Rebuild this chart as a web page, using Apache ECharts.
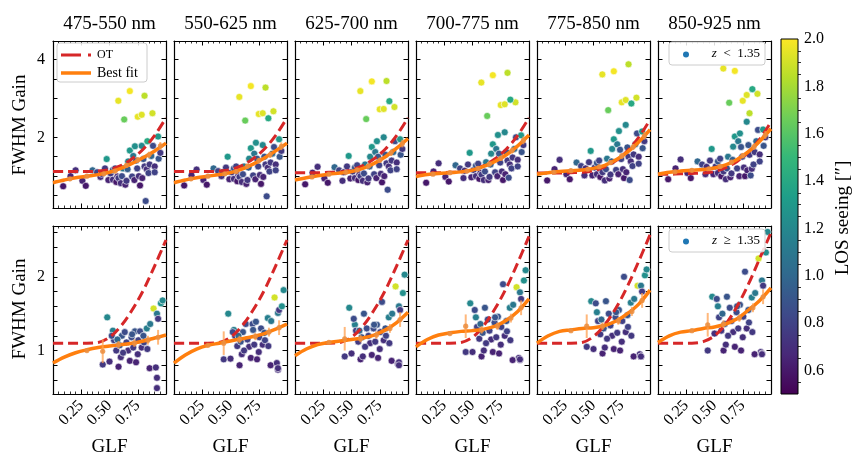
<!DOCTYPE html>
<html><head><meta charset="utf-8">
<script src="https://cdn.jsdelivr.net/npm/echarts@6/dist/echarts.min.js"></script>
<style>html,body{margin:0;padding:0;background:#fff}#c{width:853px;height:457px}</style>
</head><body><div id="c"></div>
<script>
// ---------------- data ----------------
const bands = ['475-550 nm','550-625 nm','625-700 nm','700-775 nm','775-850 nm','850-925 nm'];

// top row (z < 1.35): GLF and LOS seeing per observation
const glfTop = [0.09,0.155,0.2,0.26,0.29,0.35,0.39,0.42,0.43,0.46,
 0.475,0.49,0.51,0.53,0.53,0.55,0.56,0.57,0.58,0.6,
 0.61,0.62,0.64,0.65,0.66,0.665,0.68,0.7,0.71,0.72,
 0.725,0.735,0.745,0.76,0.77,0.785,0.79,0.8,0.81,0.82,
 0.83,0.845,0.855,0.87,0.885,0.9,0.9,0.93,0.935,0.95,
 0.578,0.68,0.81,0.63,0.75,0.785,0.88,0.835];
const seeTop = [0.6,0.65,0.7,0.65,0.6,1.0,0.8,0.7,0.7,0.75,
 1.3,0.65,0.75,0.7,0.9,0.8,0.6,0.65,0.75,0.7,
 0.85,1.1,0.65,0.75,0.95,1.2,1.3,0.8,1.1,0.65,
 1.25,0.9,0.8,0.7,0.6,1.2,0.65,0.9,0.75,0.85,
 0.7,0.8,0.75,1.0,0.85,0.7,0.8,1.3,0.9,0.75,
 1.95,1.98,1.85,1.65,1.95,1.93,1.9,1.4];
const gainTop475 = [0.74,1.0,1.15,0.88,0.75,1.15,1.1,0.98,1.06,1.2,
 1.44,0.9,1.07,0.91,1.16,1.2,0.85,0.99,0.95,0.82,
 1.0,1.2,0.78,0.88,1.18,1.38,1.66,0.99,1.52,0.9,
 1.77,1.4,1.2,1.0,0.76,1.78,0.95,1.44,1.25,0.36,
 1.18,1.08,1.3,1.52,1.78,1.25,1.1,2.02,1.45,1.6,
 2.94,3.19,3.07,2.46,2.53,2.58,2.62,1.9];
const gainTop550 = [0.76,1.02,1.17,0.9,0.78,1.2,1.13,1.0,1.1,1.22,
 1.5,0.92,1.1,0.93,1.2,1.25,0.87,1.02,0.98,0.85,
 1.05,1.25,0.8,0.9,1.22,1.45,1.72,1.02,1.58,0.92,
 1.86,1.45,1.25,1.03,0.8,1.8,0.98,1.5,1.3,0.48,
 1.22,1.12,1.35,1.58,1.75,1.3,1.15,1.95,1.5,1.65,
 3.04,3.32,3.28,2.43,2.6,2.62,2.67,2.49];
const gainTop625 = [0.79,1.09,1.24,0.94,0.83,1.23,1.15,0.88,1.1,1.25,
 1.52,0.94,1.12,0.95,1.22,1.28,0.9,1.04,1.0,0.88,
 1.07,1.3,0.84,0.94,1.25,1.5,1.75,1.05,1.62,0.95,
 1.9,1.5,1.28,1.06,0.84,2.0,1.0,1.55,1.33,0.65,
 1.25,1.15,1.4,1.62,1.9,1.35,1.18,1.95,1.55,1.7,
 3.19,3.44,3.45,2.47,2.72,2.73,2.78,2.93];
const gainTop700 = [0.83,1.12,1.33,0.98,0.86,1.28,1.2,0.95,1.14,1.3,
 1.6,0.97,1.16,1.0,1.27,1.32,0.93,1.08,1.04,0.9,
 1.12,1.36,0.9,0.98,1.3,1.58,1.82,1.1,1.7,1.0,
 2.06,1.58,1.35,1.12,0.9,2.13,1.05,1.62,1.4,0.96,
 1.3,1.2,1.48,1.7,2.0,1.42,1.25,2.05,1.62,1.8,
 3.41,3.6,3.66,2.55,2.83,2.85,2.9,2.97];
const gainTop775 = [0.89,1.18,1.42,1.05,0.92,1.35,1.26,1.02,1.2,1.36,
 1.65,1.02,1.22,1.05,1.34,1.4,0.98,1.14,1.1,0.89,
 1.18,1.45,0.94,1.04,1.38,1.7,1.95,1.16,1.82,1.05,
 2.16,1.68,1.44,1.18,0.95,2.32,1.1,1.74,1.5,0.9,
 1.38,1.26,1.56,1.82,2.1,1.5,1.32,2.15,1.72,1.9,
 3.62,3.7,3.88,2.7,2.9,2.96,3.02,2.87];
const gainTop850 = [0.92,1.2,1.43,1.08,0.95,1.38,1.3,1.05,1.24,1.4,
 1.7,1.05,1.25,1.08,1.38,1.45,1.0,1.17,1.12,0.92,
 1.2,1.5,0.97,1.07,1.42,1.76,2.02,1.2,1.9,1.0,
 2.1,1.75,1.5,1.22,1.0,2.4,1.15,1.8,1.55,1.02,
 1.19,1.3,1.62,1.9,2.19,1.56,1.38,2.2,1.78,2.0,
 3.77,3.71,2.62,2.89,2.94,3.09,3.12,3.24];

// bottom row (z >= 1.35)
const glfBot = [0.44,0.48,0.5,0.53,0.54,0.56,0.58,0.59,0.6,0.61,
 0.635,0.65,0.665,0.68,0.695,0.71,0.725,0.735,0.755,0.77,
 0.785,0.805,0.83,0.835,0.855,0.86,0.89,0.91,0.92,0.92,
 0.93,0.955,0.92,0.52,0.62,0.7,0.75,0.8,0.57,0.97];
const seeBot = [0.75,1.2,0.7,1.15,0.8,0.75,0.65,0.9,0.7,0.9,
 0.85,0.8,0.7,0.65,0.85,0.75,0.9,0.65,0.8,0.85,
 0.7,0.8,1.15,0.75,0.65,1.1,1.9,0.7,1.1,0.7,
 0.75,1.25,0.7,0.85,0.75,0.9,0.7,0.9,1.0,1.2];
const gainBot475 = [0.81,1.45,0.85,1.27,1.14,1.0,0.78,1.07,0.91,1.2,
 1.25,1.11,1.0,0.86,1.18,1.04,1.26,0.84,1.14,1.26,
 1.04,1.11,1.3,1.02,0.76,1.36,1.57,0.77,1.5,0.63,
 1.43,1.64,0.49,1.2,0.97,1.22,0.95,1.2,1.15,1.68];
const gainBot550 = [0.88,1.5,0.89,1.28,1.2,1.06,0.8,1.12,0.95,1.25,
 1.36,1.15,1.05,0.9,1.36,1.08,1.39,0.88,1.18,1.3,
 1.08,1.14,1.44,1.06,0.8,1.4,1.72,0.83,1.51,0.74,
 1.55,1.6,0.76,1.25,1.0,1.28,0.98,1.24,1.2,1.82];
const gainBot625 = [0.92,1.58,0.96,1.35,1.27,1.12,0.88,1.18,0.92,1.5,
 1.3,1.2,1.1,0.94,1.3,1.12,1.35,0.9,1.25,1.66,
 1.14,1.2,1.45,1.1,0.86,1.5,1.87,0.82,1.6,0.84,
 1.55,1.78,0.8,1.43,1.05,1.35,1.02,1.3,1.27,2.03];
const gainBot700 = [0.98,1.64,0.98,1.45,1.32,1.16,0.92,1.24,1.0,1.58,
 1.42,1.27,1.15,0.98,1.38,1.18,1.46,0.96,1.32,1.9,
 1.2,1.26,1.58,1.14,0.87,1.62,1.86,0.9,1.79,0.87,
 1.7,1.95,0.88,1.55,1.1,1.45,1.08,1.4,1.36,2.09];
const gainBot775 = [1.05,1.67,1.02,1.52,1.4,1.22,0.96,1.3,1.04,1.67,
 1.5,1.34,1.2,1.02,1.45,1.24,1.55,1.0,1.4,2.0,
 1.25,1.32,1.65,1.2,0.92,1.7,1.88,0.95,1.88,0.92,
 1.8,2.02,0.92,1.64,1.16,1.52,1.12,1.48,1.42,2.1];
const gainBot850 = [1.0,1.73,1.23,1.6,1.45,1.27,1.0,1.36,1.08,1.73,
 1.58,1.4,1.25,1.05,1.52,1.3,1.62,1.0,1.46,2.07,
 1.3,1.38,1.72,1.25,0.95,1.78,2.25,0.98,1.95,0.96,
 1.88,2.33,0.95,1.7,1.2,1.6,1.18,1.55,1.5,2.61];

// model curves sampled at curveX
const curveX = [0,0.1,0.2,0.3,0.4,0.5,0.6,0.7,0.8,0.9,1.0];
const otTop475 = [1.12,1.12,1.12,1.12,1.13,1.17,1.27,1.45,1.7,2.05,2.5];
const otTop550 = [1.12,1.12,1.12,1.12,1.13,1.17,1.27,1.45,1.7,2.05,2.5];
const otTop625 = [1.09,1.09,1.09,1.1,1.11,1.16,1.27,1.45,1.7,2.05,2.5];
const otTop700 = [1.09,1.09,1.09,1.1,1.11,1.16,1.27,1.45,1.7,2.05,2.5];
const otTop775 = [1.08,1.08,1.08,1.09,1.1,1.14,1.24,1.4,1.65,2.0,2.45];
const otTop850 = [1.05,1.05,1.06,1.07,1.08,1.12,1.22,1.38,1.62,1.95,2.4];
const fitTop475 = [0.83,0.9,0.96,1.0,1.04,1.1,1.2,1.33,1.48,1.65,1.85];
const fitTop550 = [0.83,0.9,0.96,1.0,1.04,1.09,1.18,1.31,1.47,1.65,1.85];
const fitTop625 = [0.9,0.96,1.01,1.05,1.08,1.12,1.2,1.33,1.5,1.72,1.97];
const fitTop700 = [0.99,1.04,1.07,1.09,1.11,1.16,1.25,1.38,1.55,1.78,2.06];
const fitTop775 = [1.05,1.09,1.12,1.14,1.16,1.2,1.28,1.42,1.62,1.88,2.2];
const fitTop850 = [1.05,1.1,1.13,1.15,1.17,1.21,1.29,1.43,1.63,1.9,2.22];
const otBot475 = [1.1,1.1,1.1,1.1,1.11,1.18,1.33,1.55,1.82,2.15,2.5];
const otBot550 = [1.1,1.1,1.1,1.1,1.11,1.18,1.33,1.55,1.82,2.15,2.5];
const otBot625 = [1.1,1.1,1.1,1.1,1.11,1.18,1.33,1.55,1.82,2.15,2.5];
const otBot700 = [1.1,1.1,1.1,1.1,1.11,1.18,1.34,1.57,1.85,2.19,2.55];
const otBot775 = [1.1,1.1,1.1,1.1,1.11,1.19,1.35,1.58,1.87,2.21,2.57];
const otBot850 = [1.1,1.1,1.1,1.1,1.12,1.2,1.36,1.6,1.9,2.25,2.6];
const fitBot475 = [0.83,0.91,0.97,1.01,1.04,1.06,1.08,1.1,1.13,1.17,1.21];
const fitBot550 = [0.83,0.94,1.02,1.07,1.1,1.13,1.16,1.19,1.23,1.29,1.36];
const fitBot625 = [0.93,1.02,1.08,1.11,1.13,1.15,1.17,1.21,1.28,1.38,1.52];
const fitBot700 = [1.05,1.15,1.21,1.24,1.26,1.27,1.29,1.33,1.41,1.53,1.7];
const fitBot775 = [1.1,1.2,1.26,1.28,1.3,1.31,1.34,1.4,1.5,1.63,1.82];
const fitBot850 = [1.11,1.2,1.25,1.27,1.3,1.32,1.36,1.43,1.55,1.68,1.85];

// binned points with error bars
const binXTop = [0.15,0.3,0.45,0.55,0.65,0.75,0.85,0.95];
const binErrTop = [0.04,0.05,0.05,0.05,0.06,0.07,0.08,0.1];
const binTop475 = [0.93,1.0,1.06,1.13,1.28,1.42,1.55,1.78];
const binTop550 = [0.93,1.0,1.06,1.12,1.26,1.4,1.55,1.77];
const binTop625 = [0.98,1.05,1.1,1.16,1.26,1.41,1.6,1.84];
const binTop700 = [1.05,1.09,1.13,1.2,1.31,1.46,1.66,1.92];
const binTop775 = [1.1,1.14,1.18,1.24,1.35,1.52,1.75,2.04];
const binTop850 = [1.11,1.15,1.19,1.25,1.36,1.53,1.76,2.06];
const binXBot = [0.3,0.44,0.58,0.72,0.84,0.93];
const binErrBot = [0.02,0.16,0.05,0.05,0.06,0.1];
const binBot475 = [1.0,0.99,1.08,1.1,1.14,1.18];
const binBot550 = [1.07,1.1,1.15,1.19,1.25,1.31];
const binBot625 = [1.11,1.16,1.16,1.21,1.3,1.42];
const binBot700 = [1.23,1.33,1.28,1.33,1.44,1.58];
const binBot775 = [1.27,1.33,1.33,1.4,1.53,1.68];
const binBot850 = [1.27,1.35,1.36,1.44,1.58,1.73];

// axis ticks / labels
const xRange = [0, 1];
const yRangeTop = [0.18, 4.48];
const yRangeBot = [0.41, 2.69];
const yTicksTop = [0.5,1,1.5,2,2.5,3,3.5,4];
const yLabelsTop = [2,4];
const yTicksBot = [0.6,0.8,1,1.2,1.4,1.6,1.8,2,2.2,2.4,2.6];
const yLabelsBot = [1,2];
const cbRange = [0.5, 2.0];
const cbTicks = [0.6,0.8,1.0,1.2,1.4,1.6,1.8,2.0];
const cbMinor = [0.55,0.65,0.7,0.75,0.85,0.9,0.95,1.05,1.1,1.15,1.25,1.3,1.35,1.45,1.5,1.55,1.65,1.7,1.75,1.85,1.9,1.95];

// ---------------- build ----------------
const FF = 'Liberation Serif';
const viridis = ['#440154','#482878','#3e4989','#31688e','#26828e','#1f9e89','#35b779','#6ece58','#b5de2b','#fde725'];
const rows = [
  {glf: glfTop, see: seeTop, gains:[gainTop475,gainTop550,gainTop625,gainTop700,gainTop775,gainTop850],
   ot:[otTop475,otTop550,otTop625,otTop700,otTop775,otTop850],
   fit:[fitTop475,fitTop550,fitTop625,fitTop700,fitTop775,fitTop850],
   binX: binXTop, binErr: binErrTop, bins:[binTop475,binTop550,binTop625,binTop700,binTop775,binTop850],
   yr: yRangeTop, ticks: yTicksTop, labels: yLabelsTop},
  {glf: glfBot, see: seeBot, gains:[gainBot475,gainBot550,gainBot625,gainBot700,gainBot775,gainBot850],
   ot:[otBot475,otBot550,otBot625,otBot700,otBot775,otBot850],
   fit:[fitBot475,fitBot550,fitBot625,fitBot700,fitBot775,fitBot850],
   binX: binXBot, binErr: binErrBot, bins:[binBot475,binBot550,binBot625,binBot700,binBot775,binBot850],
   yr: yRangeBot, ticks: yTicksBot, labels: yLabelsBot}
];
const colLeft = [53,174,295,416,537,658], PW = 113;
const rowTop = [41,226], rowH = [167,168];

function mkX(g, pos, labels){
  return {type:'value', gridIndex:g, position:pos, min:xRange[0], max:xRange[1], interval:0.25,
    axisLine:{show:true, onZero:false, lineStyle:{color:'#000', width:1.2}},
    axisTick:{show:true, inside:true, length:4.5, lineStyle:{color:'#000', width:1}},
    minorTick:{show:true, splitNumber:5, length:2.5, lineStyle:{color:'#000', width:0.8}},
    splitLine:{show:false}, minorSplitLine:{show:false},
    axisLabel:{show:labels, rotate:45, margin:9, fontSize:16, color:'#000', fontFamily:FF,
      showMinLabel:false, showMaxLabel:false, formatter:v=>v.toFixed(2)}};
}
function mkY(g, pos, labels, row){
  return {type:'value', gridIndex:g, position:pos, min:row.yr[0], max:row.yr[1],
    axisLine:{show:true, onZero:false, lineStyle:{color:'#000', width:1.2}},
    axisTick:{show:true, inside:true, length:4.5, customValues:row.ticks, lineStyle:{color:'#000', width:1}},
    splitLine:{show:false},
    axisLabel:{show:labels, customValues:row.labels, margin:8, fontSize:16, color:'#000', fontFamily:FF, formatter:v=>String(v)}};
}

const grid=[], xAxis=[], yAxis=[], series=[], scatterIdx=[];
rows.forEach((row, r) => {
  for (let c = 0; c < 6; c++) {
    const k = r*6 + c;
    grid.push({left:colLeft[c], top:rowTop[r], width:PW, height:rowH[r], containLabel:false, outerBoundsMode:'none'});
    xAxis.push(mkX(k, 'bottom', r === 1));
    xAxis.push(mkX(k, 'top', false));
    yAxis.push(mkY(k, 'left', c === 0, row));
    yAxis.push(mkY(k, 'right', false, row));
    const gain = row.gains[c];
    series.push({type:'scatter', xAxisIndex:2*k, yAxisIndex:2*k, z:2,
      data: row.glf.map((x,i)=>[x, gain[i], row.see[i]]),
      symbolSize:7, itemStyle:{borderColor:'#fff', borderWidth:0.6, opacity:1}});
    scatterIdx.push(series.length-1);
    series.push({type:'line', xAxisIndex:2*k, yAxisIndex:2*k, z:4, silent:true,
      data: curveX.map((x,i)=>[x, row.ot[c][i]]), smooth:0.35, showSymbol:false,
      lineStyle:{color:'#d62728', width:3, type:[10,5]}});
    series.push({type:'line', xAxisIndex:2*k, yAxisIndex:2*k, z:5, silent:true,
      data: curveX.map((x,i)=>[x, row.fit[c][i]]), smooth:0.35, showSymbol:false,
      lineStyle:{color:'#ff7f0e', width:3.5}});
    series.push({type:'custom', xAxisIndex:2*k, yAxisIndex:2*k, z:6, silent:true,
      data: row.binX.map((x,i)=>[x, row.bins[c][i], row.binErr[i]]),
      encode:{x:0, y:1},
      renderItem:(params, api)=>{
        const x=api.value(0), y=api.value(1), e=api.value(2);
        const t=api.coord([x,y+e]), b=api.coord([x,y-e]), m=api.coord([x,y]);
        return {type:'group', children:[
          {type:'line', shape:{x1:t[0],y1:t[1],x2:b[0],y2:b[1]}, style:{stroke:'rgba(255,160,80,0.75)', lineWidth:2}},
          {type:'circle', shape:{cx:m[0],cy:m[1],r:2.6}, style:{fill:'rgba(235,140,60,0.85)'}}
        ]};
      }});
  }
});

// colorbar
grid.push({left:781, top:39, width:17, height:355, containLabel:false, outerBoundsMode:'none'});
xAxis.push({type:'value', gridIndex:12, min:0, max:1, show:false});
yAxis.push({type:'value', gridIndex:12, position:'right', min:cbRange[0], max:cbRange[1],
  axisLine:{show:false}, splitLine:{show:false},
  axisTick:{show:true, inside:false, length:5, customValues:cbTicks, lineStyle:{color:'#000', width:1}},
  axisLabel:{show:true, customValues:cbTicks, margin:6, fontSize:16, color:'#000', fontFamily:FF, formatter:v=>v.toFixed(1)}});
yAxis.push({type:'value', gridIndex:12, position:'right', min:cbRange[0], max:cbRange[1],
  axisLine:{show:false}, splitLine:{show:false},
  axisTick:{show:true, inside:false, length:3, customValues:cbMinor, lineStyle:{color:'#000', width:0.8}},
  axisLabel:{show:false}});
const cbStops = viridis.slice().reverse().map((col,i,a)=>({offset:i/(a.length-1), color:col}));
series.push({type:'custom', xAxisIndex:24, yAxisIndex:24, silent:true, z:1,
  data:[[cbRange[0], cbRange[1]]], encode:{x:0, y:1},
  renderItem:(params, api)=>{
    const lo=api.value(0), hi=api.value(1);
    const p1=api.coord([0,hi]), p2=api.coord([1,lo]);
    return {type:'rect', shape:{x:p1[0], y:p1[1], width:p2[0]-p1[0], height:p2[1]-p1[1]},
      style:{fill:{type:'linear', x:0, y:0, x2:0, y2:1, colorStops:cbStops}, stroke:'#000', lineWidth:1}};
  }});

// text & legends
const gfx = [];
const txt = (x,y,t,size,extra)=>Object.assign({type:'text', x:x, y:y, z:100,
  style:{text:t, font:size+'px "'+FF+'"', fill:'#000', align:'center', verticalAlign:'middle'}}, extra||{});
bands.forEach((b,c)=>{ gfx.push(txt(colLeft[c]+PW/2, 24, b, 19)); gfx.push(txt(colLeft[c]+PW/2, 447, 'GLF', 19)); });
gfx.push(txt(20, 125, 'FWHM Gain', 19, {rotation:Math.PI/2}));
gfx.push(txt(20, 309, 'FWHM Gain', 19, {rotation:Math.PI/2}));
gfx.push(txt(843, 218, 'LOS seeing [\u2033]', 19, {rotation:Math.PI/2}));
// legend OT / Best fit
gfx.push({type:'rect', z:99, shape:{x:57, y:43, width:90, height:39, r:3}, style:{fill:'rgba(255,255,255,0.85)', stroke:'#cccccc', lineWidth:1}});
gfx.push({type:'line', z:100, shape:{x1:61, y1:55, x2:91, y2:55}, style:{stroke:'#d62728', lineWidth:3, lineDash:[20,7]}});
gfx.push({type:'line', z:100, shape:{x1:61, y1:73, x2:91, y2:73}, style:{stroke:'#ff7f0e', lineWidth:3.5}});
gfx.push({type:'text', z:100, x:97, y:55, style:{text:'OT', font:'12px "'+FF+'"', fill:'#000', align:'left', verticalAlign:'middle'}});
gfx.push({type:'text', z:100, x:97, y:73, style:{text:'Best fit', font:'14px "'+FF+'"', fill:'#000', align:'left', verticalAlign:'middle'}});
// legend z boxes
[[42,'<'],[229,'\u2265']].forEach(([y0,sym])=>{
  gfx.push({type:'rect', z:99, shape:{x:669, y:y0, width:96, height:23, r:3}, style:{fill:'rgba(255,255,255,0.85)', stroke:'#cccccc', lineWidth:1}});
  gfx.push({type:'circle', z:100, shape:{cx:686, cy:y0+12.5, r:3}, style:{fill:'#1f77b4'}});
  gfx.push({type:'text', z:100, x:760, y:y0+12, style:{text:'{i|z}  '+sym+'  1.35', align:'right', verticalAlign:'middle', fill:'#000',
    font:'13px "'+FF+'"', rich:{i:{fontStyle:'italic', fontFamily:FF, fontSize:13}}}});
});

const chart = echarts.init(document.getElementById('c'), null, {renderer:'canvas'});
chart.setOption({
  animation:false,
  backgroundColor:'#fff',
  textStyle:{fontFamily:FF},
  grid, xAxis, yAxis, series,
  visualMap:{type:'continuous', show:false, min:cbRange[0], max:cbRange[1], dimension:2, seriesIndex:scatterIdx, inRange:{color:viridis}},
  graphic:{elements:gfx}
});
</script></body></html>
